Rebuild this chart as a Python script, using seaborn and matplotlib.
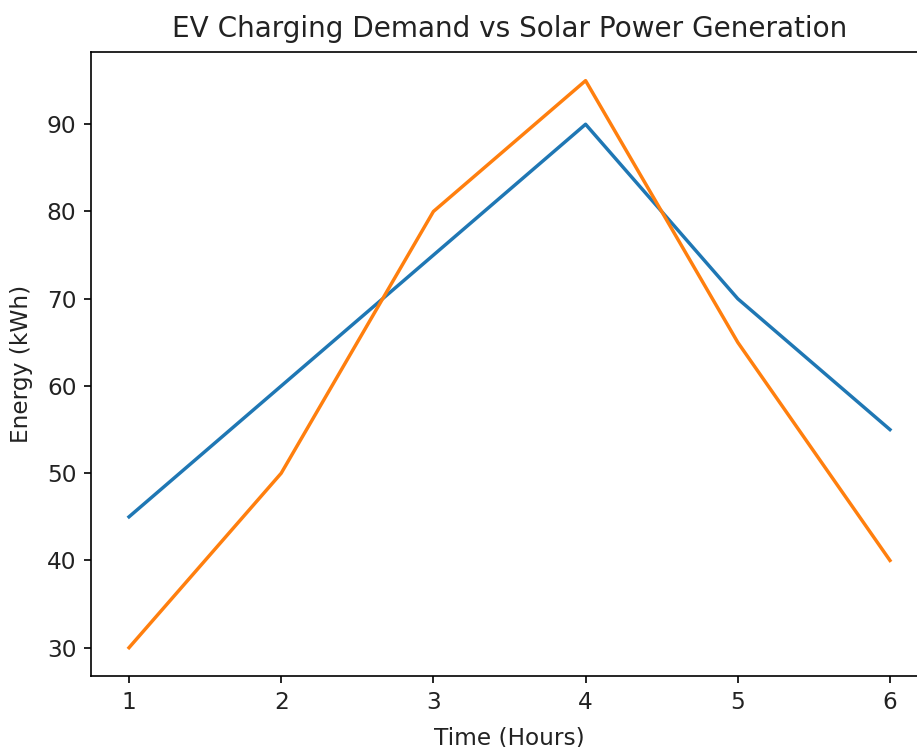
import seaborn as sns
import matplotlib.pyplot as plt
import pandas as pd

# Chart values
hours = [1, 2, 3, 4, 5, 6]
ev_demand = [45, 60, 75, 90, 70, 55]
solar_gen = [30, 50, 80, 95, 65, 40]

df = pd.DataFrame({
    'Time': hours * 2,
    'Energy': ev_demand + solar_gen,
    'Series': ['EV Charging Demand'] * len(hours) + ['Solar Power Generation'] * len(hours),
})

plt.rcParams['font.size'] = 11.15
plt.rcParams['text.color'] = '#222222'
plt.rcParams['axes.labelcolor'] = '#222222'
plt.rcParams['xtick.labelcolor'] = '#222222'
plt.rcParams['ytick.labelcolor'] = '#222222'

fig = plt.figure(figsize=(917 / 150, 747 / 150), dpi=150)
# right spine sits just past the image edge, as in the reference
ax = fig.add_axes([0.0992, 0.095, 0.9128, 0.835])
sns.lineplot(data=df, x='Time', y='Energy', hue='Series',
             palette=['#1f77b4', '#ff7f0e'], legend=False, linewidth=1.65, ax=ax)

ax.set_title('EV Charging Demand vs Solar Power Generation', fontsize=13.4, pad=7.5)
ax.set_xlabel('Time (Hours)', labelpad=6.2)
ax.set_ylabel('Energy (kWh)', labelpad=6.4)
fig.savefig('out.png', dpi=150)
